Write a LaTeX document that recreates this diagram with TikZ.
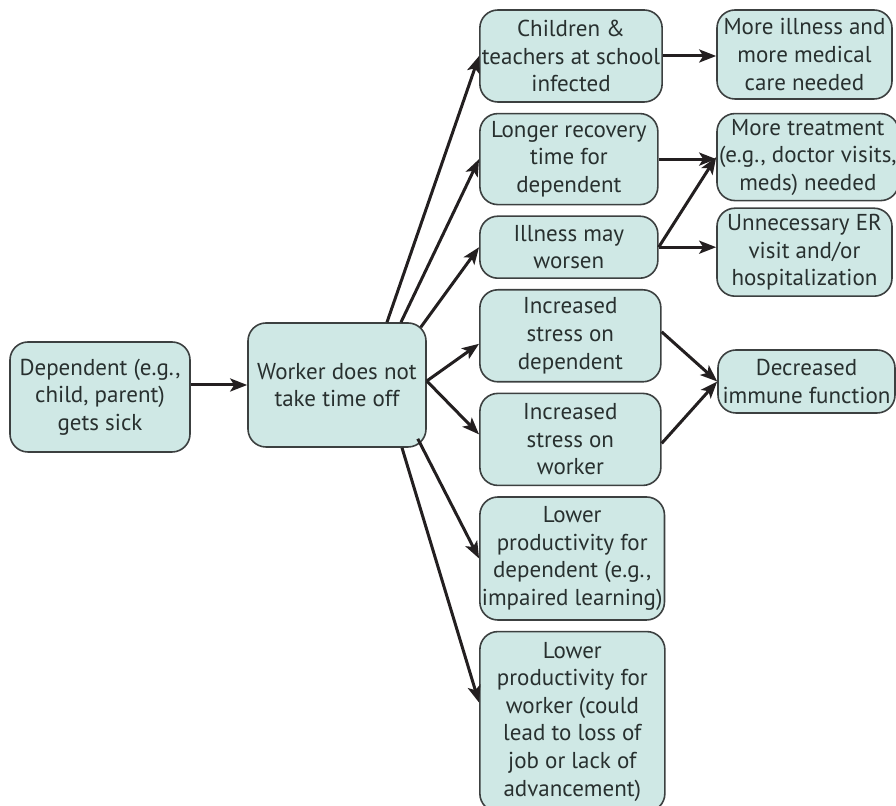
\documentclass[tikz,border=0pt]{standalone}
\usepackage{fontspec}
\setmainfont{PT Sans}
\usetikzlibrary{arrows.meta,positioning}

\definecolor{boxfill}{RGB}{207,232,229}
\definecolor{boxline}{RGB}{60,64,64}
\definecolor{arrowline}{RGB}{35,31,32}
\definecolor{boxtext}{RGB}{40,48,47}

\begin{document}
\begin{tikzpicture}[
	x = 0.5pt, y = -0.5pt, % pixel grid of the sketch
	> = {Stealth[length=8.5pt, width=6.5pt, inset=2pt]}, % arrow head style
	line width = 1.5pt,
	box/.style={rectangle, rounded corners=9pt, draw=boxline, line width=0.8pt, fill=boxfill,
		text=boxtext, align=center, inner sep=1pt, minimum width=89pt,
		font=\fontsize{11.5}{13.8}\selectfont},
	link/.style={->, color=arrowline},
	]
	\useasboundingbox (0,0) rectangle (896,806);

	% Nodes and their relative positions
	% cause
	\node[box, minimum height=62pt] (W) at (337,385) {Worker does not\\take time off};
	\node[box, minimum width=90pt, minimum height=55pt] (A) at (100,397) {Dependent (e.g.,\\child, parent)\\gets sick};

	% first effects
	\node[box, minimum height=46pt] (C1) at (571,56) {Children \&\\teachers at school\\infected};
	\node[box, minimum height=45.5pt] (C2) [below = 5pt of C1.south west, anchor=north west] {Longer recovery\\time for\\dependent};
	\node[box, minimum height=31pt] (C3) [below = 5pt of C2.south west, anchor=north west] {Illness may\\worsen};
	\node[box, minimum width=90.5pt, minimum height=46pt] (C4) [below = 5pt of C3.south west, anchor=north west] {Increased\\stress on\\dependent};
	\node[box, minimum width=90.5pt, minimum height=46pt] (C5) [below = 5pt of C4.south west, anchor=north west] {Increased\\stress on\\worker};
	\node[box, minimum height=61.5pt] (C6) [below = 5pt of C5.south west, anchor=north west] {Lower\\productivity for\\dependent (e.g.,\\impaired learning)};
	\node[box, minimum width=92.5pt, minimum height=90pt] (C7) [below = 5pt of C6.south west, anchor=north west] {Lower\\productivity for\\worker (could\\lead to loss of\\job or lack of\\advancement)};

	% second effects
	\node[box, minimum width=87.5pt, minimum height=44.5pt] (D1) at (804.5,54.5) {More illness and\\more medical\\care needed};
	\node[box, minimum width=87.5pt, minimum height=43.5pt] (D2) [below = 6.5pt of D1.south west, anchor=north west] {More treatment\\(e.g., doctor visits,\\meds) needed};
	\node[box, minimum width=87.5pt, minimum height=44pt] (D3) [below = 3pt of D2.south west, anchor=north west] {Unnecessary ER\\visit and/or\\hospitalization};
	\node[box, minimum width=88.5pt, minimum height=31.5pt] (D4) at (806.5,381.5) {Decreased\\immune function};

	% Paths connecting nodes
	\path[link] (A.east |- W.west) edge (W.west);

	\path[link] ([xshift=25pt]W.north) edge (C1.west);
	\path[link] ([xshift=32pt]W.north) edge (C2.west);
	\path[link] ([xshift=-3pt,yshift=-2.5pt]W.north east) edge (C3.west);
	\path[link] ([yshift=2pt]W.east) edge ([yshift=-4pt]C4.west);
	\path[link] ([yshift=2pt]W.east) edge ([yshift=2.5pt]C5.west);
	\path[link] ([xshift=-4.5pt,yshift=4.5pt]W.south east) edge (C6.west);
	\path[link] ([xshift=32.5pt]W.south) edge ([yshift=9.5pt]C7.west);

	\path[link] (C1.east) edge (C1.east -| D1.west);
	\path[link] (C2.east) edge (C2.east -| D2.west);
	\path[link] (C3.east) edge (D2.west);
	\path[link] (C3.east) edge (C3.east -| D3.west);
	\path[link] ([yshift=2pt]C4.east) edge (D4.west);
	\path[link] ([yshift=-2pt]C5.east) edge (D4.west);

\end{tikzpicture}
\end{document}
